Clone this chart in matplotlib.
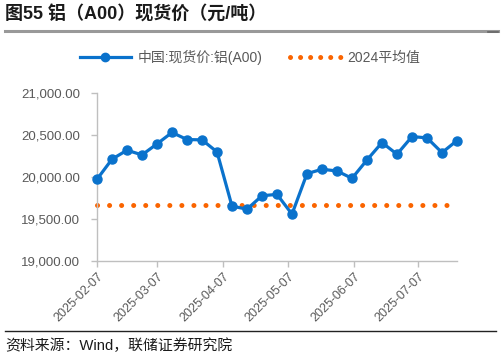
import matplotlib
matplotlib.use("Agg")
import matplotlib.pyplot as plt
import pandas as pd
from matplotlib.lines import Line2D

plt.rcParams['font.family'] = ['Liberation Sans', 'Noto Sans CJK SC', 'DejaVu Sans']

# ---- data ----
dates = pd.date_range('2025-02-07', periods=25, freq='7D')
spot_price = [19973, 20212, 20319, 20263, 20394, 20530, 20446, 20442, 20299,
              19653, 19617, 19777, 19793, 19558, 20040, 20092, 20072, 19984,
              20203, 20410, 20271, 20481, 20466, 20290, 20434]
avg_2024 = 19662
series_labels = ['中国:现货价:铝(A00)', '2024平均值']
tick_dates = ['2025-02-07', '2025-03-07', '2025-04-07', '2025-05-07', '2025-06-07', '2025-07-07']
y_ticks = [19000, 19500, 20000, 20500, 21000]
title = '图55 铝（A00）现货价（元/吨）'
source = '资料来源：Wind，联储证券研究院'

W, H = 504, 359
fig = plt.figure(figsize=(W / 100, H / 100), dpi=100)
ax = fig.add_axes([97 / W, 1 - 261 / H, (457 - 97) / W, (261 - 93) / H])

blue = '#0A72CC'
orange = '#FA6400'
gray_text = '#595959'
spine_gray = '#BFBFBF'

ax.plot(dates, [avg_2024] * len(dates), color=orange, lw=3.6,
        linestyle=(0, (0.01, 2.4)), dash_capstyle='round', clip_on=False,
        label=series_labels[1], zorder=2)
ax.plot(dates, spot_price, color=blue, lw=2.3, marker='o', markersize=6.5,
        clip_on=False, label=series_labels[0], zorder=3)

ax.set_xlim(dates[0], dates[-1])
ax.set_ylim(19000, 21000)
ax.set_yticks(y_ticks)
ax.set_yticklabels([f'{v:,.2f}' for v in y_ticks])
ax.set_xticks(pd.to_datetime(tick_dates))
ax.set_xticklabels(tick_dates, rotation=45, ha='right', va='top', rotation_mode='anchor')

for s in ['top', 'right']:
    ax.spines[s].set_visible(False)
for s in ['left', 'bottom']:
    ax.spines[s].set_color(spine_gray)
    ax.spines[s].set_linewidth(1.0)
ax.tick_params(axis='both', colors=spine_gray, labelcolor=gray_text, length=4, width=1)
ax.tick_params(axis='y', labelsize=9.5, pad=8)
ax.tick_params(axis='x', labelsize=9.0, pad=3)

handles = [
    Line2D([], [], color=blue, lw=2.3, marker='o', markersize=6),
    Line2D([], [], color=orange, lw=3.6, linestyle=(0, (0.01, 2.0)), dash_capstyle='round'),
]
leg = fig.legend(handles, series_labels, loc='center', bbox_to_anchor=(250 / W, 1 - 57 / H),
                 ncol=2, frameon=False, fontsize=10, handlelength=3.7, handletextpad=0.45,
                 columnspacing=2.0, labelcolor=gray_text)

fig.text(5 / W, 1 - 15 / H, title, fontsize=13, fontweight='bold', color='#1a1a1a',
         va='center', ha='left')
fig.add_artist(Line2D([5 / W, 498 / W], [1 - 31 / H, 1 - 31 / H], color='#999999', lw=2.2))
fig.add_artist(Line2D([488 / W, 498 / W], [1 - 32 / H, 1 - 32 / H], color='#666666', lw=1.2))
fig.add_artist(Line2D([5 / W, 496 / W], [1 - 331 / H, 1 - 331 / H], color='#222222', lw=1.0))
fig.text(5 / W, 1 - 346 / H, source, fontsize=10.7, color='#1a1a1a', va='center', ha='left')

fig.savefig('out.png', dpi=100)
